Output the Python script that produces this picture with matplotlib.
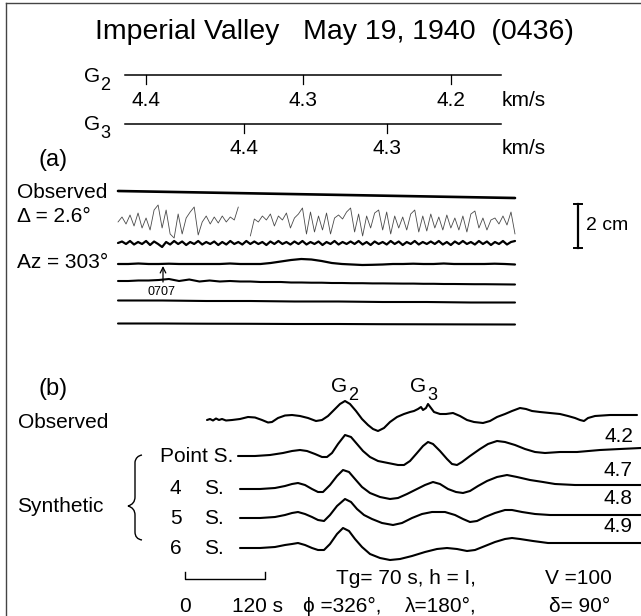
import matplotlib
matplotlib.use('Agg')
import matplotlib.pyplot as plt
import matplotlib.transforms as mtransforms
from matplotlib.path import Path
from matplotlib.patches import PathPatch
import numpy as np

plt.rcParams['font.family'] = ['Liberation Sans', 'DejaVu Sans']
plt.rcParams['mathtext.default'] = 'regular'

# ---------------- data ----------------
title = "Imperial Valley   May 19, 1940  (0436)"
g2_velocities = [4.4, 4.3, 4.2]
g3_velocities = [4.4, 4.3]
g2_tick_pos = [146, 303, 451]
g3_tick_pos = [244, 387]

# panel (a): amplitudes sampled uniformly along the paper record (px, up positive)
a_obs_top = [2, 1.5, 1, 0.5, 0, -0.5, -1, -1.5, -2, -2.5, -3, -3.5, -4, -4.5, -5]
a_noisy = [0, 5, -2, 7, -4, 9, -6, 4, -8, 12, 17, -6, 12, -12, -16, 8, -12, 4, 10, 15,
           -13, 0, 6, -2, 5, -1, 6, 0, 5, 2, 15, np.nan, np.nan, -14, 3, 0, 6, 2, 8, -4,
           6, 2, 9, -6, 4, 8, 14, -12, 10, -10, 6, -8, 9, -12, 4, 7, 3, 10, 14, -10,
           8, -14, 6, -6, 9, 12, -8, 10, -12, 6, -6, 5, -8, 8, 12, -10, 6, -9, 8, -6,
           5, -8, 7, -6, 4, -8, 6, -10, 8, 11, -6, 4, -8, 2, 4, -2, 6, -3, 10, -12]
a_wavy = [0, 1.5, -1, 2, -1.5, 1, -1, 2, -2, 1.5, -1, -4, 1, -1.5, 2, -1, 1.5, -2, 1, -1,
          2, -1.5, 1, -1, 1.5, -2, 1, -1.5, 2, -1, 1, -1.5, 2, -1, 1.5, -1, 1, -2, 1.5, -1,
          2, -1, 1, -1.5, 1.5, -1, 2, -1.5, 1, -1, 1.5, -2, 1, -1, 2, -1.5, 1, -1, 1.5, -1,
          2, -1.5, 1, -2, 1.5, -1, 1, -1.5, 2, -1, 1.5, -2, 1, -1, 2, -1.5, 1, -1, 1.5, -1,
          2, -1.5, 1, -2, 1.5, -1, 2, -1, 1, -1.5, 2, -1, 1.5, -2, 1, -1, 2, -1.5, 1, 2]
a_az = [0, 0, 0.5, 0, 0, 0.3, 0, 0, 0, 0, 0, 0.5, 0, 0, 0, 1, 2.5, 4, 5, 4.5, 3, 1, 0,
        -0.5, -1, -0.8, -0.5, 0, 0, 0.3, 0, 0, 0.5, 0, 0, 0, 0, 0.3, 0, -0.5]
a_mark = [2, 2, 2.5, 2.5, 3, 4, 2, 3.5, 1.5, 2.5, 1.5, 2, 1.5, 1.5, 1, 1, 1, 0.5, 0.5, 0.3,
          0.3, 0, 0, -0.2, -0.2, -0.4, -0.4, -0.5, -0.6, -0.6, -0.8, -0.8, -1, -1, -1.1,
          -1.2, -1.2, -1.3, -1.4, -1.5]
a_flat1 = [1.5, 1.5, 1, 1, 0.5, 0.5, 0, 0, -0.5, -0.5]
a_flat2 = [0.5, 0.5, 0.3, 0.2, 0, 0, -0.2, -0.3, -0.4, -0.5]

# panel (b): time (s from the scale-bar origin) and amplitude (px, up positive)
obs_t = [33, 37.5, 42, 46.5, 51, 55.5, 61.5, 70.5, 82.5, 94.5, 105, 115.5, 124.5, 130.5,
         139.5, 150, 160.5, 172.5, 184.5, 196.5, 205.5, 214.5, 223.5, 232.5, 240, 247.5,
         256.5, 265.5, 274.5, 282, 289.5, 298.5, 307.5, 318, 328.5, 337.5, 343.5, 349.5,
         354, 357, 361.5, 364.5, 369, 373.5, 382.5, 391.5, 402, 412.5, 423, 433.5, 447,
         457.5, 468, 480, 490.5, 502.5, 511.5, 520.5, 532.5, 547.5, 562.5, 574.5, 585,
         592.5, 598.5, 604.5, 615, 637.5, 660, 678]
obs_a = [0, 1, -0.5, 1.5, 0, 1, -0.5, 0, 1, 3, 2.5, 0, -2.5, -2, 2, 4.5, 5, 4, 2, -1, 0,
         4, 10, 16, 19, 16, 9, 1, -5, -9, -11, -8, -2, 3, 6, 8, 9, 11, 13, 10, 12, 16, 12,
         8, 6, 6, 7, 4, 0, -2, -3, -1, 3, 6, 9, 12, 11, 9, 8, 7, 6, 4, 2, 0, -1, 2, 4, 5, 5, 5]

pt_t = [79.5, 105, 127.5, 147, 160.5, 172.5, 183, 195, 205.5, 213, 220.5, 229.5, 240, 249,
        258, 267, 277.5, 289.5, 304.5, 319.5, 328.5, 337.5, 348, 357, 364.5, 372, 382.5,
        393, 400.5, 408, 415.5, 427.5, 442.5, 454.5, 468, 480, 495, 510, 525, 540, 562.5,
        588, 622.5, 652.5, 684]
pt_a = [0, 0, 1, 3, 5, 6, 5, 2, -1, -1, 3, 12, 21, 19, 12, 5, -1, -5, -7, -9, -9, -5, 3,
        10, 14, 12, 5, -3, -8, -9, -6, 0, 7, 12, 15, 14, 11, 7, 4, 3, 4, 4, 6, 7, 8]

s4_t = [82.5, 112.5, 135, 150, 160.5, 169.5, 180, 190.5, 199.5, 207, 217.5, 228, 237, 246,
        255, 265.5, 277.5, 292.5, 307.5, 319.5, 333, 348, 360, 372, 382.5, 394.5, 406.5,
        417, 427.5, 439.5, 453, 468, 483, 498, 517.5, 537, 555, 585, 622.5, 652.5, 684]
s4_a = [0, 0, 1, 3, 5, 6, 4, 0, -3, -3, 4, 13, 19, 17, 10, 2, -4, -8, -10, -9, -5, 0, 4,
        7, 5, 0, -3, -4, -2, 3, 8, 12, 14, 12, 9, 7, 5, 4, 4, 4, 4]

s5_t = [82.5, 112.5, 135, 150, 160.5, 169.5, 180, 190.5, 199.5, 208.5, 217.5, 228, 240,
        249, 258, 268.5, 280.5, 295.5, 312, 325.5, 340.5, 355.5, 370.5, 390, 405, 417,
        427.5, 438, 450, 465, 480, 490.5, 505.5, 525, 547.5, 577.5, 622.5, 684]
s5_a = [0, 0, 1, 3, 5, 6, 4, 1, -2, -3, 3, 12, 19, 16, 9, 3, -1, -5, -7, -5, 0, 4, 6, 6,
        3, -1, -4, -3, 1, 5, 8, 8, 6, 4, 3, 3, 3, 3]

s6_t = [82.5, 112.5, 135, 150, 160.5, 169.5, 180, 190.5, 199.5, 208.5, 217.5, 228, 237,
        246, 255, 265.5, 277.5, 292.5, 307.5, 322.5, 340.5, 360, 378, 393, 408, 423, 435,
        450, 465, 480, 490.5, 502.5, 522, 544.5, 577.5, 622.5, 684]
s6_a = [0, 0, 1, 3, 4, 5, 3, 0, -2, -2, 4, 14, 20, 17, 9, 1, -6, -10, -12, -11, -8, -4,
        -1, 0, -1, -3, -2, 2, 6, 9, 10, 9, 7, 5, 5, 5, 5]

b_numbers = ["Point", "4", "5", "6"]
b_velocity = ["4.2", "4.7", "4.8", "4.9"]

# ---------------- figure ----------------
W, H = 641, 616
fig = plt.figure(figsize=(W / 100, H / 100), dpi=100)
ax = fig.add_axes([0, 0, 1, 1])
ax.set_xlim(0, W)
ax.set_ylim(H, 0)
ax.axis('off')

K = 'black'
fs = 15

# frame
ax.plot([6, 6], [3, 616], color='#444444', lw=1.0)
ax.plot([6, 641], [3, 3], color='#444444', lw=1.0)

ax.text(95, 32, title, ha='left', va='center', fontsize=20.5, color=K)

# velocity scales
for yl, sub, vels, pos, yv in [(75, '2', g2_velocities, g2_tick_pos, 100),
                               (124, '3', g3_velocities, g3_tick_pos, 148)]:
    ax.plot([125, 501], [yl, yl], color=K, lw=1.1)
    ax.text(92, yl + 1, 'G', ha='center', va='center', fontsize=fs, color=K)
    ax.text(105, yl + 10, sub, ha='center', va='center', fontsize=13, color=K)
    for v, xp in zip(vels, pos):
        ax.plot([xp, xp], [yl, yl + 9], color=K, lw=0.9)
        ax.text(xp, yv, f"{v:.1f}", ha='center', va='center', fontsize=fs, color=K)
    ax.text(502, yv, "km/s", ha='left', va='center', fontsize=fs, color=K)

ax.text(38, 160, "(a)", ha='left', va='center', fontsize=17, color=K)

# panel (a) traces
A_X0, A_X1 = 118, 515


def trace_a(vals, base, lw, color=K):
    xs = np.linspace(A_X0, A_X1, len(vals))
    ax.plot(xs, base - np.asarray(vals, dtype=float), color=color, lw=lw,
            solid_joinstyle='round', solid_capstyle='round')


trace_a(a_obs_top, 193, 1.9)
trace_a(a_noisy, 222, 0.6, '#4a4a4a')
trace_a(a_wavy, 243, 1.6)
trace_a(a_az, 264, 1.6)
trace_a(a_mark, 283, 1.5)
trace_a(a_flat1, 302, 1.5)
trace_a(a_flat2, 324, 1.5)

ax.text(17, 193, "Observed", ha='left', va='center', fontsize=fs, color=K)
ax.text(17, 217, "Δ = 2.6°", ha='left', va='center', fontsize=fs, color=K)
ax.text(17, 263, "Az = 303°", ha='left', va='center', fontsize=fs, color=K)
ax.annotate("", xy=(163, 266), xytext=(163, 282),
            arrowprops=dict(arrowstyle='->', lw=0.9, color=K, shrinkA=0, shrinkB=0))
ax.text(161, 292, "0707", ha='center', va='center', fontsize=9, color=K)

# 2 cm bar
ax.plot([578, 578], [204, 248], color=K, lw=1.6)
ax.plot([574, 582], [204, 204], color=K, lw=1.4)
ax.plot([574, 582], [248, 248], color=K, lw=1.4)
ax.text(586, 226, "2 cm", ha='left', va='center', fontsize=14, color=K)

# panel (b)
ax.text(39, 389, "(b)", ha='left', va='center', fontsize=17, color=K)
for xg, sub in [(339, '2'), (418, '3')]:
    ax.text(xg, 387, 'G', ha='center', va='center', fontsize=fs, color=K)
    ax.text(xg + 14, 395, sub, ha='center', va='center', fontsize=13, color=K)

B_X0 = 185.0
B_PX = 80.0 / 120.0  # px per second


def trace_b(t, a, base):
    tr = mtransforms.Affine2D().scale(B_PX, -1.0).translate(B_X0, base) + ax.transData
    ax.plot(t, a, transform=tr, color=K, lw=1.5, solid_joinstyle='round',
            solid_capstyle='round')


trace_b(obs_t, obs_a, 420)
bases = [456, 489, 518, 548]
label_y = [437, 470, 499, 527]
for (t, a), base, num, vel, ly in zip([(pt_t, pt_a), (s4_t, s4_a), (s5_t, s5_a), (s6_t, s6_a)],
                                      bases, b_numbers, b_velocity, label_y):
    trace_b(t, a, base)
    if num == "Point":
        ax.text(233, base, "Point S.", ha='right', va='center', fontsize=fs, color=K)
    else:
        ax.text(170, base, num, ha='left', va='center', fontsize=fs, color=K)
        ax.text(224, base, "S.", ha='right', va='center', fontsize=fs, color=K)
    ax.text(633, ly, vel, ha='right', va='center', fontsize=fs, color=K)

ax.text(18, 423, "Observed", ha='left', va='center', fontsize=fs, color=K)
ax.text(17, 507, "Synthetic", ha='left', va='center', fontsize=fs, color=K)

# brace
verts = [(142, 455), (136, 456), (135, 462), (135, 470),
         (135, 497), (135, 504), (128, 506),
         (135, 508), (135, 515), (135, 532), (135, 539), (142, 540)]
codes = [Path.MOVETO, Path.CURVE3, Path.CURVE3, Path.LINETO,
         Path.LINETO, Path.CURVE3, Path.CURVE3,
         Path.CURVE3, Path.CURVE3, Path.LINETO, Path.CURVE3, Path.CURVE3]
ax.add_patch(PathPatch(Path(verts, codes), fill=False, lw=1.0, color=K))

# time scale bar
ax.plot([B_X0, B_X0, B_X0 + 120 * B_PX, B_X0 + 120 * B_PX], [572, 579, 579, 572],
        color=K, lw=1.0)
ax.text(B_X0, 606, "0", ha='center', va='center', fontsize=fs, color=K)
ax.text(232, 606, "120 s", ha='left', va='center', fontsize=fs, color=K)
ax.text(336, 578, "Tg= 70 s, h = I,", ha='left', va='center', fontsize=fs, color=K)
ax.text(545, 578, "V =100", ha='left', va='center', fontsize=fs, color=K)
ax.text(303, 606, "ϕ =326°,", ha='left', va='center', fontsize=fs, color=K)
ax.text(405, 606, "λ=180°,", ha='left', va='center', fontsize=fs, color=K)
ax.text(549, 606, "δ= 90°", ha='left', va='center', fontsize=fs, color=K)

fig.savefig('out.png', dpi=100, facecolor='white')
